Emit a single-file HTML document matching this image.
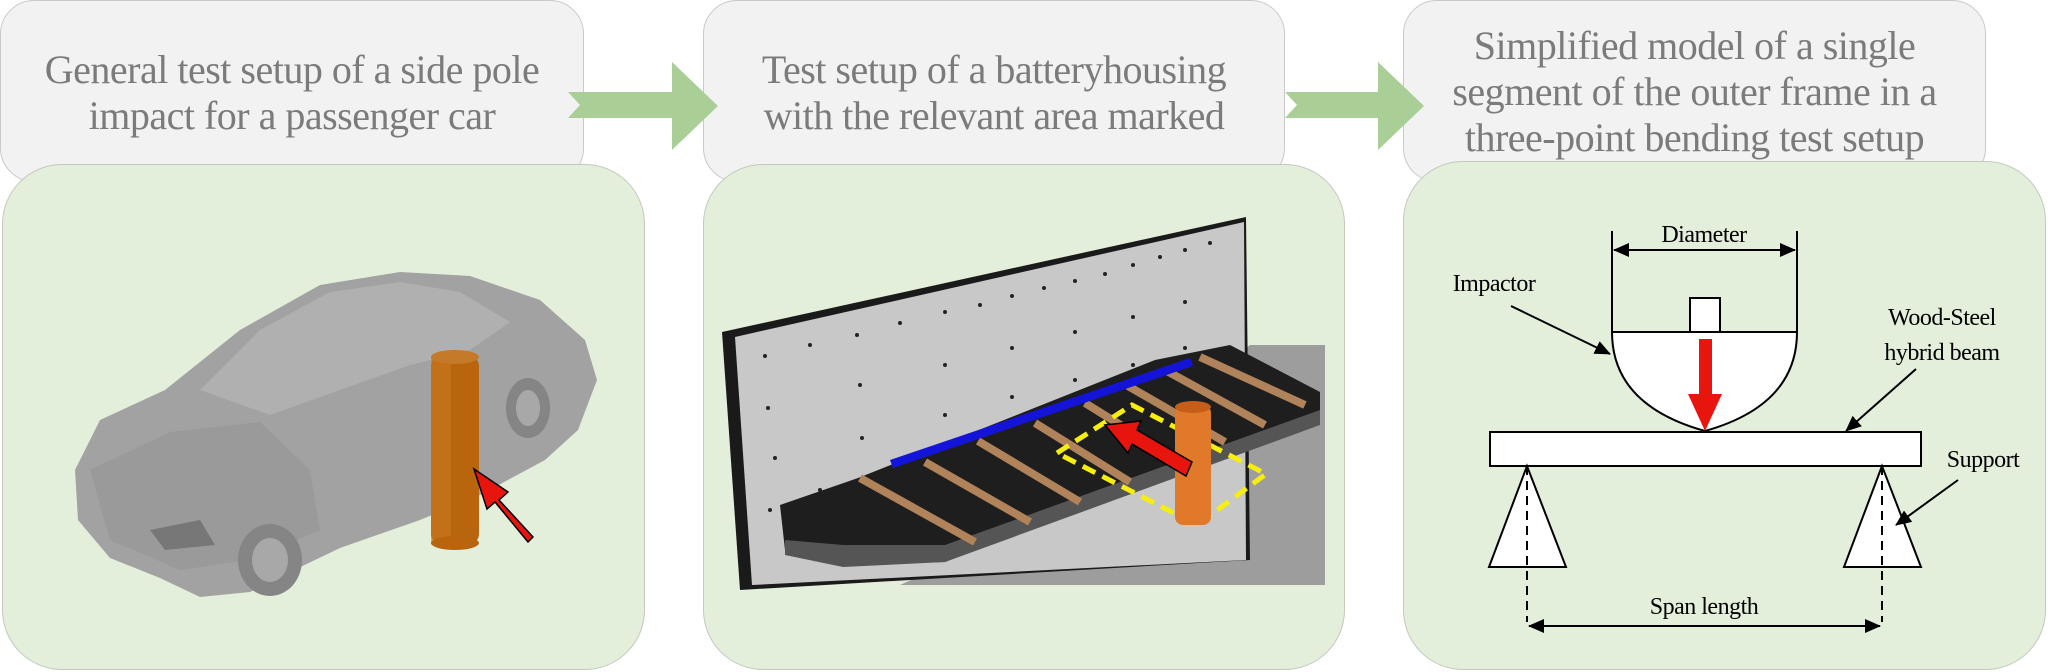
<!DOCTYPE html>
<html><head><meta charset="utf-8"><style>
html,body{margin:0;padding:0;background:#fff}
body{width:2048px;height:672px;overflow:hidden;position:relative;font-family:"Liberation Serif",serif}
.gb{position:absolute;background:#f2f2f2;border:1.5px solid #c9c9c9;border-radius:34px;box-sizing:border-box;color:#7b7b7b;font-size:40px;text-align:center;line-height:46px;display:flex;align-items:flex-start;justify-content:center;letter-spacing:-0.5px}
.pn{position:absolute;background:#e3eedb;border:1.5px solid #c3c9bd;border-radius:60px;box-sizing:border-box}
svg{position:absolute;left:0;top:0}
</style></head><body>
<div class="gb" style="left:0;top:0;width:584px;height:182px;padding-top:46px">General test setup of a side pole<br>impact for a passenger car</div>
<div class="gb" style="left:703px;top:0;width:582px;height:182px;padding-top:46px">Test setup of a batteryhousing<br>with the relevant area marked</div>
<div class="gb" style="left:1403px;top:0;width:583px;height:182px;padding-top:22px">Simplified model of a single<br>segment of the outer frame in a<br>three-point bending test setup</div>
<div class="pn" style="left:2px;top:164px;width:643px;height:506px"></div>
<div class="pn" style="left:703px;top:164px;width:642px;height:506px"></div>
<div class="pn" style="left:1403px;top:161px;width:643px;height:509px"></div>
<svg width="2048" height="672" viewBox="0 0 2048 672">
<defs>
<marker id="ah2" markerWidth="16" markerHeight="14" refX="15" refY="7" orient="auto" markerUnits="userSpaceOnUse"><path d="M0,0 L16,7 L0,14 z" fill="#000"/></marker>
<marker id="as" markerWidth="16" markerHeight="14" refX="1" refY="7" orient="auto" markerUnits="userSpaceOnUse"><path d="M16,0 L0,7 L16,14 z" fill="#000"/></marker>
</defs>
<path d="M568,92 L672,92 L672,62 L718,106 L672,150 L672,118 L568,118 L580,105 z" fill="#a9cf97"/>
<path d="M1285,92 L1378,92 L1378,62 L1424,106 L1378,150 L1378,118 L1285,118 L1297,105 z" fill="#a9cf97"/>

<!-- car -->
<path d="M75,470 L100,420 L165,390 L240,330 L320,285 L400,272 L470,276 L540,300 L585,340 L597,380 L578,430 L545,460 L480,495 L420,520 L340,548 L290,572 L250,592 L200,597 L160,578 L110,558 L78,520 z" fill="#a2a2a2"/>
<path d="M200,390 L260,330 L330,292 L400,282 L460,292 L510,322 L470,350 L410,365 L340,390 L270,415 z" fill="#b0b0b0"/>
<path d="M90,470 L170,432 L260,422 L310,470 L320,530 L250,560 L180,570 L110,540 z" fill="#9a9a9a"/>
<ellipse cx="270" cy="560" rx="32" ry="36" fill="#858585"/>
<ellipse cx="270" cy="560" rx="18" ry="22" fill="#a8a8a8"/>
<ellipse cx="528" cy="408" rx="22" ry="30" fill="#858585"/>
<ellipse cx="528" cy="408" rx="12" ry="18" fill="#a8a8a8"/>
<path d="M150,530 L200,520 L215,545 L165,550 z" fill="#777"/>
<rect x="431" y="356" width="48" height="188" rx="10" fill="#b8650e"/>
<rect x="431" y="356" width="20" height="188" fill="#c97a22" opacity=".6"/>
<ellipse cx="455" cy="357" rx="24" ry="7" fill="#c47a28"/>
<ellipse cx="455" cy="543" rx="24" ry="7" fill="#b8650e"/>
<path d="M533,537 L499,500 L508,492 L474,469 L487,509 L495,502 L528,542 z" fill="#e8150f" stroke="#000" stroke-width="1.5"/>

<!-- battery scene -->
<path d="M1250,345 L1325,345 L1325,585 L900,585 L1000,540 z" fill="#9d9d9d"/>
<path d="M722,332 L1246,217 L1250,560 L740,590 z" fill="#1a1a1a"/>
<path d="M735,337 L1244,222 L1246,560 L752,585 z" fill="#c8c8c8"/>
<g fill="#222">
<circle cx="765" cy="356" r="2"/><circle cx="810" cy="345" r="2"/><circle cx="857" cy="335" r="2"/><circle cx="900" cy="323" r="2"/><circle cx="945" cy="312" r="2"/><circle cx="980" cy="305" r="2"/><circle cx="1012" cy="296" r="2"/><circle cx="1044" cy="288" r="2"/><circle cx="1075" cy="281" r="2"/><circle cx="1105" cy="274" r="2"/><circle cx="1133" cy="265" r="2"/><circle cx="1160" cy="257" r="2"/><circle cx="1185" cy="250" r="2"/><circle cx="1210" cy="243" r="2"/>
<circle cx="768" cy="408" r="2"/><circle cx="860" cy="385" r="2"/><circle cx="945" cy="365" r="2"/><circle cx="1012" cy="348" r="2"/><circle cx="1075" cy="332" r="2"/><circle cx="1133" cy="317" r="2"/><circle cx="1185" cy="302" r="2"/>
<circle cx="775" cy="458" r="2"/><circle cx="862" cy="438" r="2"/><circle cx="945" cy="415" r="2"/><circle cx="1012" cy="397" r="2"/><circle cx="1075" cy="380" r="2"/><circle cx="1133" cy="365" r="2"/><circle cx="1185" cy="348" r="2"/>
<circle cx="770" cy="510" r="2"/><circle cx="820" cy="490" r="2"/><circle cx="830" cy="555" r="2"/>
</g>
<path d="M780,505 L858,478 L1155,360 L1230,345 L1320,392 L1320,420 L1000,540 L945,562 L843,565 L785,550 z" fill="#1e1e1e"/>
<path d="M785,540 L843,545 L945,545 L1320,410 L1320,425 L945,562 L843,567 L785,555 z" fill="#555"/>
<g stroke="#b0835a" stroke-width="8">
<line x1="860" y1="478" x2="975" y2="542"/><line x1="925" y1="462" x2="1030" y2="522"/><line x1="978" y1="441" x2="1080" y2="502"/><line x1="1035" y1="423" x2="1130" y2="482"/><line x1="1085" y1="403" x2="1180" y2="462"/><line x1="1128" y1="386" x2="1225" y2="442"/><line x1="1165" y1="370" x2="1265" y2="425"/><line x1="1200" y1="357" x2="1305" y2="405"/>
</g>
<path d="M890,460 L1190,358 L1193,366 L893,468 z" fill="#1414d8"/>
<polygon points="1057,453 1132,405 1266,474 1197,525" fill="none" stroke="#f5ee10" stroke-width="5" stroke-dasharray="14,8"/>
<rect x="1175" y="405" width="36" height="120" rx="8" fill="#e0792a"/>
<ellipse cx="1193" cy="407" rx="18" ry="6" fill="#c45e18"/>
<path d="M1192,462 L1137,430 L1141,421 L1105,425 L1128,453 L1132,444 L1186,476 z" fill="#e8150f" stroke="#000" stroke-width="1.5"/>

<!-- bending diagram -->
<g stroke="#000" stroke-width="2" fill="#fff">
<line x1="1612" y1="231" x2="1612" y2="332"/><line x1="1797" y1="231" x2="1797" y2="332"/>
<line x1="1614" y1="250" x2="1795" y2="250" marker-start="url(#as)" marker-end="url(#ah2)"/>
<path d="M1612,332 L1797,332 Q1797,405 1705,431 Q1612,405 1612,332 z"/>
<rect x="1690" y="298" width="30" height="34"/>
<rect x="1490" y="432" width="431" height="34"/>
<polygon points="1527,466 1489,567 1566,567"/>
<polygon points="1882,466 1844,567 1921,567"/>
<line x1="1527" y1="466" x2="1527" y2="622" stroke-dasharray="9,6"/>
<line x1="1882" y1="466" x2="1882" y2="622" stroke-dasharray="9,6"/>
<line x1="1529" y1="626" x2="1880" y2="626" marker-start="url(#as)" marker-end="url(#ah2)"/>
<line x1="1511" y1="306" x2="1610" y2="354" marker-end="url(#ah2)"/>
<line x1="1916" y1="369" x2="1846" y2="431" marker-end="url(#ah2)"/>
<line x1="1958" y1="480" x2="1896" y2="525" marker-end="url(#ah2)"/>
</g>
<path d="M1699,339 L1712,339 L1712,394 L1722,394 L1705,431 L1688,394 L1699,394 z" fill="#e8150f"/>
<g font-family="Liberation Serif, serif" font-size="24" fill="#000" text-anchor="middle" letter-spacing="-0.5">
<text x="1704" y="242">Diameter</text>
<text x="1494" y="291">Impactor</text>
<text x="1942" y="325">Wood-Steel</text>
<text x="1942" y="360">hybrid  beam</text>
<text x="1983" y="467">Support</text>
<text x="1704" y="614">Span length</text>
</g>
</svg>
</body></html>
